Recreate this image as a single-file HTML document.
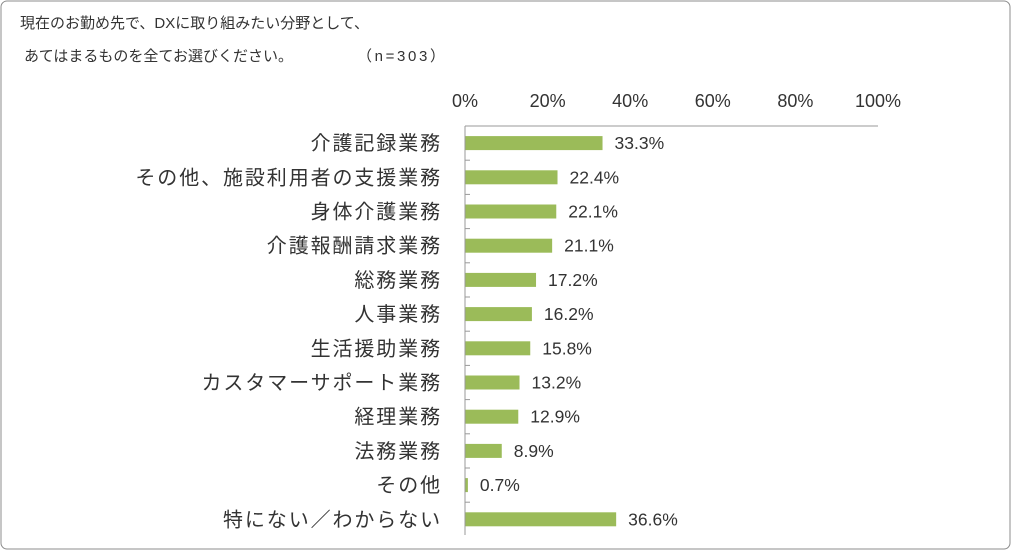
<!DOCTYPE html>
<html><head><meta charset="utf-8"><style>
body{margin:0;background:#fff;}
svg{display:block;font-family:"Liberation Sans","Noto Sans CJK JP",sans-serif;}
</style></head><body>
<svg width="1012" height="551" xmlns="http://www.w3.org/2000/svg">
<rect x="1" y="1" width="1009" height="548" rx="6" fill="#fff" stroke="#8c8c8c"/>
<text x="20" y="28" font-size="15" fill="#333">現在のお勤め先で、DXに取り組みたい分野として、</text>
<text x="24" y="61" font-size="15" fill="#333">あてはまるものを全てお選びください。<tspan x="357" textLength="88" lengthAdjust="spacing">（n=303）</tspan></text>
<g id="ticks"></g><g id="bars"></g>
<line x1="465" y1="126" x2="878" y2="126" stroke="#999"/>
<line x1="465" y1="126" x2="465" y2="535" stroke="#999"/>
</svg>
<script>
const categories=["介護記録業務","その他、施設利用者の支援業務","身体介護業務","介護報酬請求業務","総務業務","人事業務","生活援助業務","カスタマーサポート業務","経理業務","法務業務","その他","特にない／わからない"];
const values=[33.3,22.4,22.1,21.1,17.2,16.2,15.8,13.2,12.9,8.9,0.7,36.6];
const tickValues=[0,20,40,60,80,100];
const NS="http://www.w3.org/2000/svg";
const x=v=>465+v*4.13;
const top0=126,step=34.2;
const yc=i=>top0+step*(i+0.5);
const tg=document.getElementById('ticks'),bg=document.getElementById('bars');
function mk(t,a,p){const e=document.createElementNS(NS,t);for(const k in a)e.setAttribute(k,a[k]);p.appendChild(e);return e;}
tickValues.forEach(v=>{
 const t=mk('text',{x:x(v),y:107,'font-size':18,fill:'#333','text-anchor':'middle'},tg);
 t.textContent=v+'%';
 
 
});
for(let i=1;i<categories.length;i++){
 const l=mk('line',{x1:465,x2:470,y1:top0+step*i,y2:top0+step*i,stroke:'#999'},tg);
 
 
}
categories.forEach((c,i)=>{
 const cy=yc(i);
 const lab=mk('text',{x:442,y:cy+7,'font-size':20,'letter-spacing':1.9,fill:'#333','text-anchor':'end'},bg);
 lab.textContent=c;
 
 
 const r=mk('rect',{x:465,y:cy-7,width:x(values[i])-465,height:14,fill:'#9bbb59'},bg);
 
 
 const vl=mk('text',{x:x(values[i])+12,y:cy+6,'font-size':17.5,fill:'#333'},bg);
 vl.textContent=values[i].toFixed(1)+'%';
 
 
});
</script>
</body></html>
